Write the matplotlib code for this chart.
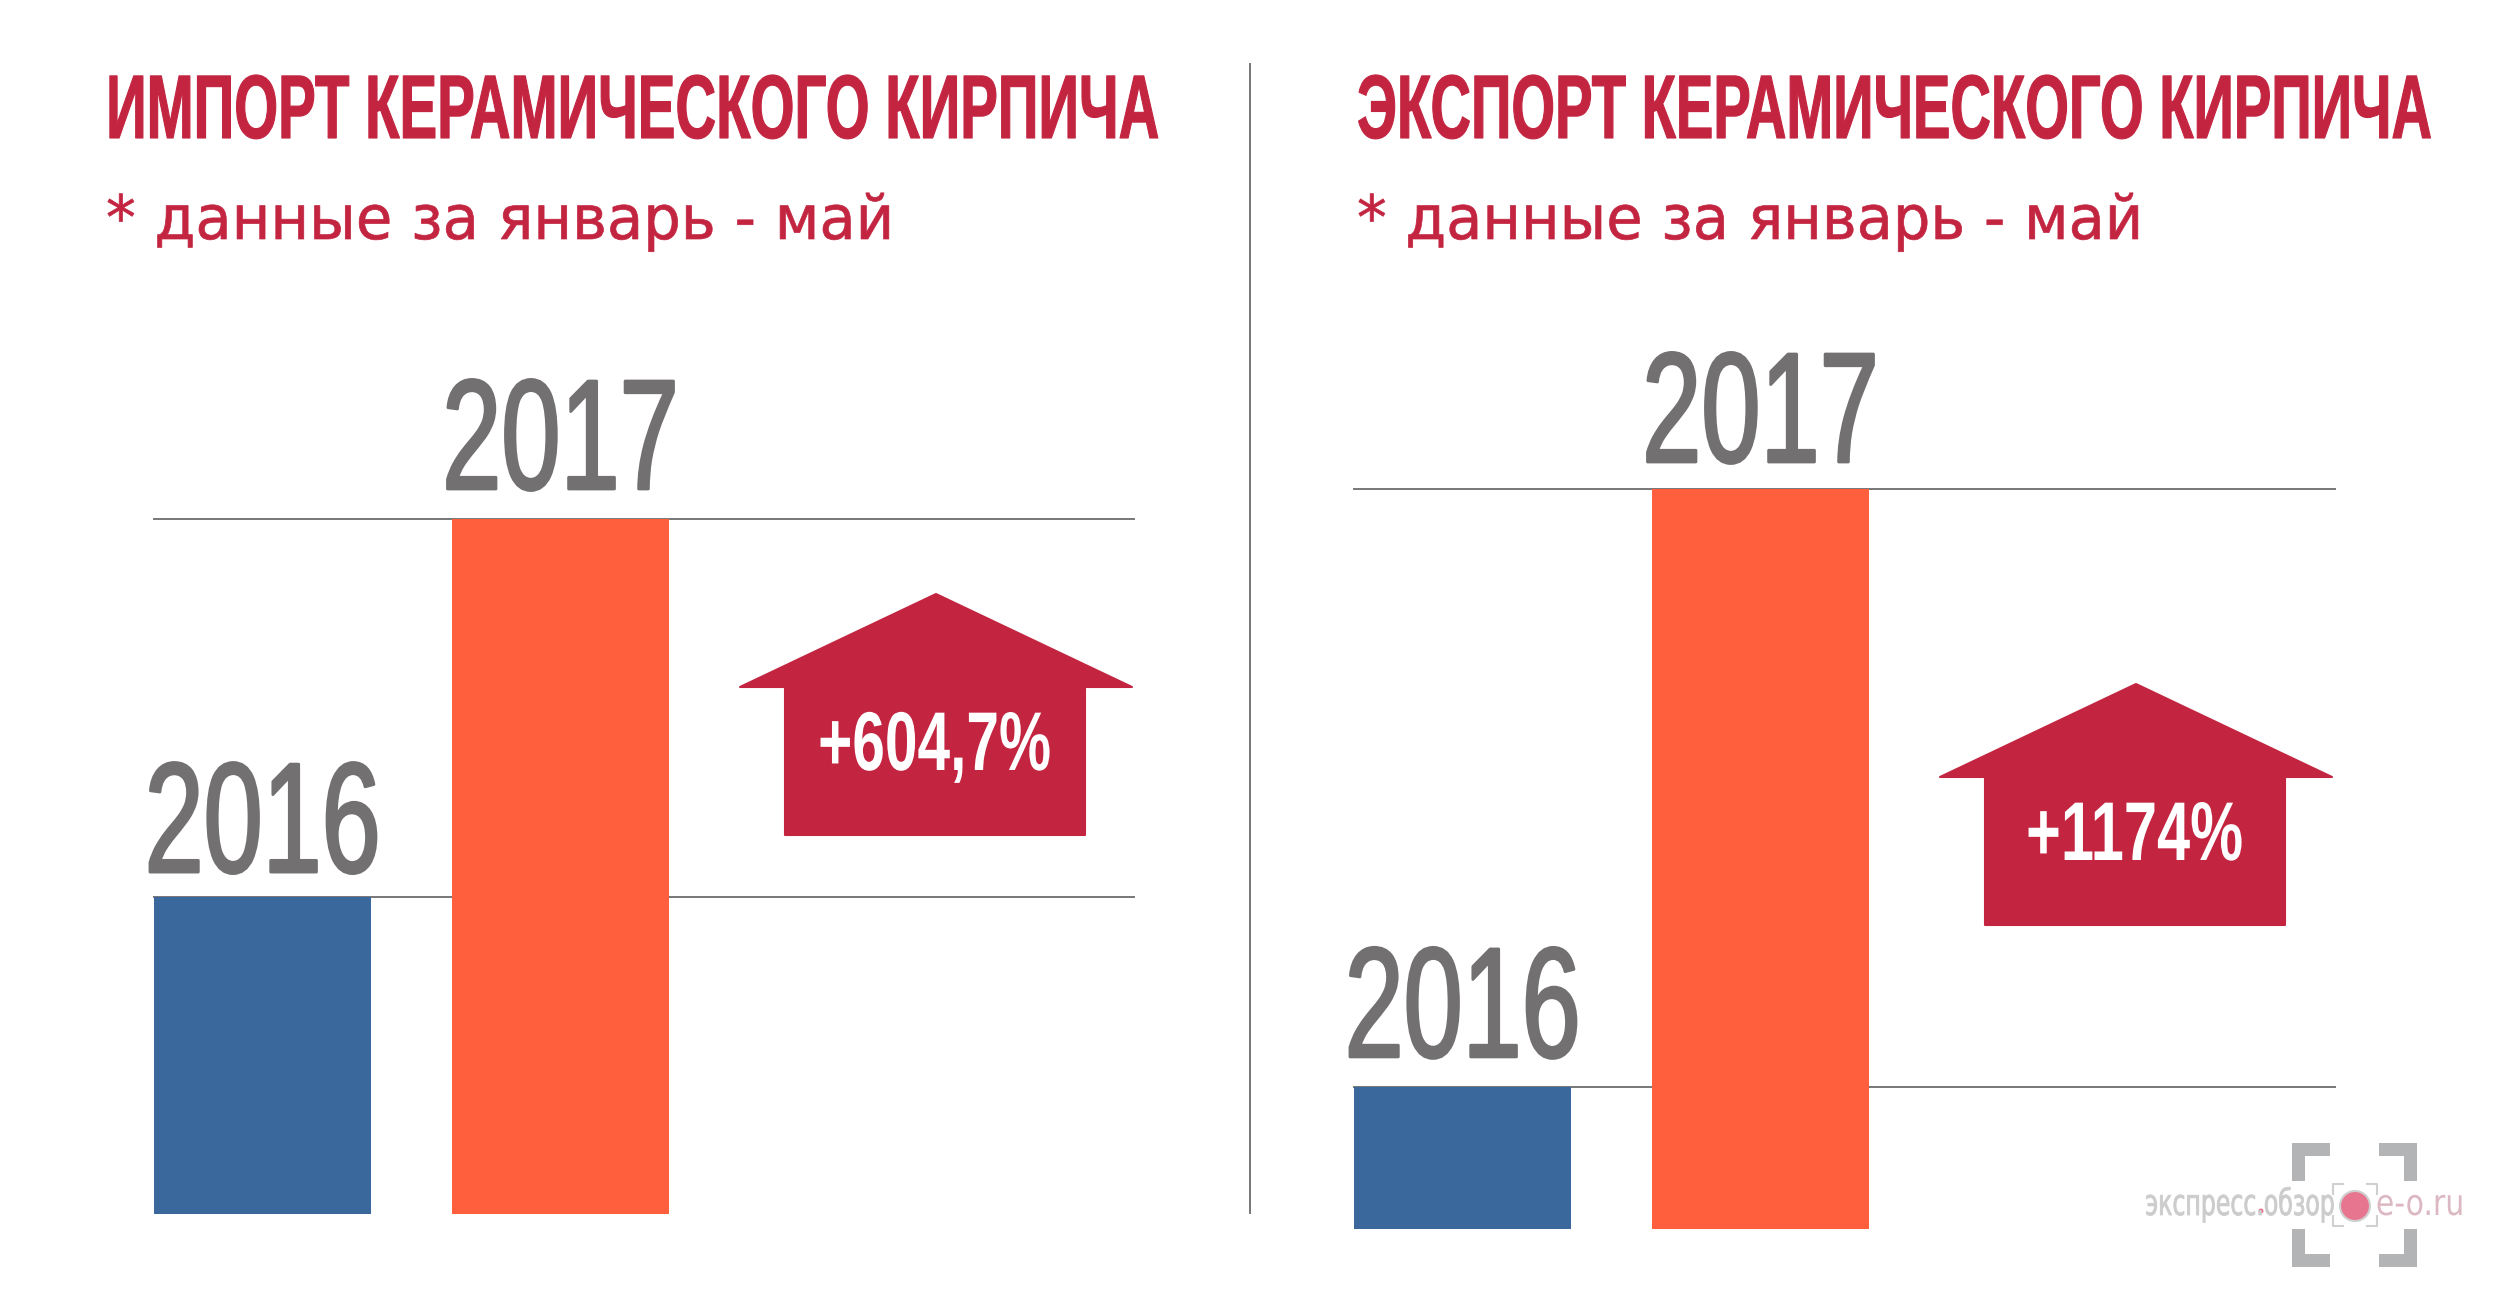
import matplotlib
matplotlib.use('Agg')
import matplotlib.pyplot as plt
from matplotlib.patches import Polygon, Circle, Rectangle
from matplotlib.patheffects import AbstractPathEffect
from matplotlib.transforms import Affine2D

# значения, в % от столбика 2017 (шкала на графике условная)
years = ['2016', '2017']
import_values = [45.6, 100]
export_values = [19.2, 100]
import_change = '+604,7%'
export_change = '+1174%'

title_import = 'ИМПОРТ КЕРАМИЧЕСКОГО КИРПИЧА'
title_export = 'ЭКСПОРТ КЕРАМИЧЕСКОГО КИРПИЧА'
subtitle = '* данные за январь - май'

RED = '#c32541'
GREY = '#727071'
LINE = '#777777'
bar_colors = ['#3a689c', '#ff5f3c']
NARROW = ['Liberation Sans Narrow', 'Liberation Sans']


# текст остается текстом, но подгоняется по ширине и высоте (узкого шрифта как в оригинале нет)
class FitText(AbstractPathEffect):
    def __init__(self, width, anchor='left', yk=1.0, stroke=0.0):
        super().__init__()
        self.width = width
        self.anchor = anchor
        self.yk = yk
        self.stroke = stroke

    def draw_path(self, renderer, gc, tpath, affine, rgbFace=None):
        box = tpath.get_extents(affine)
        x0 = box.x0 if self.anchor == 'left' else (box.x0 + box.x1) / 2
        y0 = affine.transform_point((0, 0))[1]
        k = self.width / box.width
        fit = Affine2D().translate(-x0, -y0).scale(k, self.yk).translate(x0, y0)
        gc0 = renderer.new_gc()
        gc0.copy_properties(gc)
        gc0.set_foreground(rgbFace)
        gc0.set_linewidth(self.stroke)
        renderer.draw_path(gc0, tpath, affine + fit, rgbFace)
        gc0.restore()


fig = plt.figure(figsize=(25, 13.08), dpi=100, facecolor='white')

# слой в пикселях для заголовков, стрелок и логотипа
over = fig.add_axes([0, 0, 1, 1], zorder=3)
over.set_xlim(0, 2500)
over.set_ylim(1308, 0)
over.axis('off')


def px_axes(x0, y0, x1, y1):
    return fig.add_axes([x0 / 2500, 1 - y1 / 1308, (x1 - x0) / 2500, (y1 - y0) / 1308])


def draw_panel(box, values, gaps):
    ax = px_axes(*box)
    x_left = -0.364
    x_right = (box[2] - box[0]) / 298 + x_left
    ax.set_xlim(x_left, x_right)
    ax.set_ylim(0, 100)
    ax.axis('off')
    for v in values:
        ax.plot([x_left, x_right], [v, v], color=LINE, lw=1.4, zorder=1, clip_on=False)
    ax.bar([0, 1], values, width=0.728, color=bar_colors, zorder=2)
    for i, v in enumerate(values):
        ax.annotate(years[i], (i, v), xytext=(0, gaps[i] * 0.72), textcoords='offset points',
                    ha='center', va='baseline', fontsize=113, color=GREY, family=NARROW,
                    path_effects=[FitText(226, 'center', stroke=2.0)], annotation_clip=False)
    return ax


def draw_arrow(dx, dy, label, label_w):
    pts = [(936, 594), (1132, 687), (1085, 687), (1085, 835), (785, 835), (785, 687), (740, 687)]
    over.add_patch(Polygon([(x + dx, y + dy) for x, y in pts], closed=True, facecolor=RED,
                           edgecolor=RED, lw=1.5, joinstyle='round'))
    over.text(934.5 + dx, 770 + dy, label, color='white', fontsize=60, fontweight='bold',
              family=NARROW, ha='center', va='baseline',
              path_effects=[FitText(label_w, 'center')])


draw_panel((154, 519, 1134, 1214), import_values, [25, 30])
draw_panel((1354, 489, 2335, 1229), export_values, [30, 27])

for x, title, w, sub_w in [(106, title_import, 1048, 781), (1357, title_export, 1072, 779)]:
    over.text(x, 138, title, color=RED, fontsize=42, fontweight='bold', family=NARROW,
              ha='left', va='baseline', path_effects=[FitText(w, yk=1.548, stroke=0.8)])
    over.text(x, 239, subtitle, color=RED, fontsize=44, family='DejaVu Sans',
              ha='left', va='baseline', path_effects=[FitText(sub_w, stroke=0.5)])

draw_arrow(0, 0, import_change, 229)
draw_arrow(1200, 90, export_change, 213)

# разделитель
over.plot([1250, 1250], [64, 1213], color=LINE, lw=1.4)

# логотип
LOGO = '#b3b4b6'
for cx, sx in [(2292, 1), (2417, -1)]:
    for cy, sy in [(1143, 1), (1267, -1)]:
        over.add_patch(Rectangle((cx, cy), sx * 38, sy * 13, color=LOGO, lw=0))
        over.add_patch(Rectangle((cx, cy), sx * 13, sy * 38, color=LOGO, lw=0))
for cx, sx in [(2333, 1), (2377, -1)]:
    for cy, sy in [(1184, 1), (1226, -1)]:
        over.plot([cx + sx * 10, cx, cx], [cy, cy, cy + sy * 10], color='#d0d0d0', lw=1.5)
over.add_patch(Circle((2355, 1206), 15, facecolor='#e8758f', edgecolor='#cfcfcf', lw=1.5))
over.text(2145, 1215, 'экспресс.обзор', color='#cccccc', fontsize=20, family='DejaVu Sans',
          ha='left', va='baseline', path_effects=[FitText(187, yk=1.3, stroke=0.6)])
over.text(2376, 1215, 'e-o.ru', color='#dcb8c2', fontsize=20, family='DejaVu Sans',
          ha='left', va='baseline', path_effects=[FitText(84, yk=1.3)])
over.add_patch(Circle((2261, 1211), 2.5, color='#e8758f', lw=0))

fig.savefig('out.png', dpi=100)
